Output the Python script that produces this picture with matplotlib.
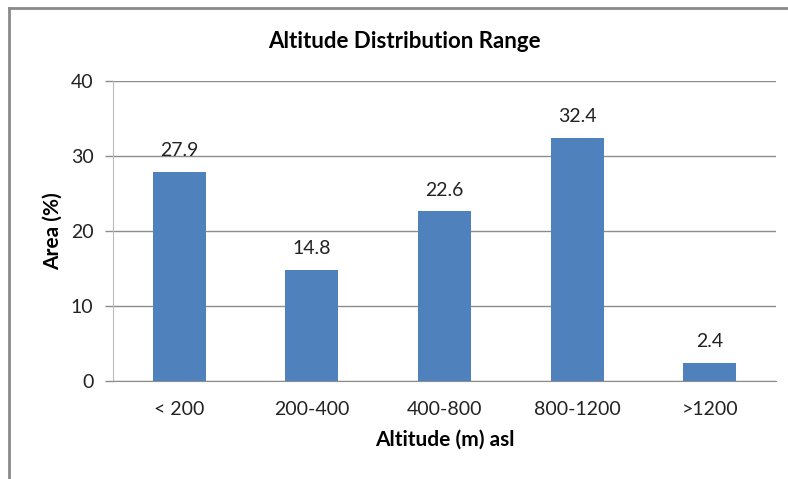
import matplotlib.pyplot as plt
from matplotlib.lines import Line2D

# altitude classes and share of total area
categories = ['< 200', '200-400', '400-800', '800-1200', '>1200']
area_pct = [27.9, 14.8, 22.6, 32.4, 2.4]
y_ticks = [0, 10, 20, 30, 40]

bar_color = '#4F81BD'
grid_color = '#8C8C8C'

plt.rcParams['font.family'] = ['Lato', 'DejaVu Sans']

fig = plt.figure(figsize=(7.88, 4.79), dpi=100)
ax = fig.add_axes([113 / 788, 1 - 380.5 / 479, 663 / 788, 299.5 / 479])

x = range(len(categories))
bars = ax.bar(x, area_pct, width=0.4, color=bar_color, zorder=3)

for rect, val in zip(bars, area_pct):
    ax.annotate(str(val), (rect.get_x() + rect.get_width() / 2, val),
                xytext=(0, 9), textcoords='offset points',
                ha='center', va='bottom', fontsize=14, color='#222222')

ax.set_xlim(-0.5, len(categories) - 0.5)
ax.set_ylim(0, 40)
ax.set_yticks(y_ticks)
ax.set_xticks(list(x))
ax.set_xticklabels(categories)
ax.tick_params(axis='x', length=0, pad=15, labelsize=14, colors='#222222')
ax.tick_params(axis='y', length=6, width=1, color=grid_color, pad=8,
               labelsize=14, labelcolor='#222222')
ax.grid(axis='y', color=grid_color, linewidth=1, zorder=0)

for side in ['top', 'right']:
    ax.spines[side].set_visible(False)
ax.spines['left'].set_color('#BBBBBB')
ax.spines['bottom'].set_color(grid_color)

ax.set_xlabel('Altitude (m) asl', fontsize=15, fontweight='bold', labelpad=8)
ax.set_ylabel('Area (%)', fontsize=15, fontweight='bold', labelpad=6)
fig.text(404 / 788, 1 - 42 / 479, 'Altitude Distribution Range',
         ha='center', va='center', fontsize=16, fontweight='bold')

# chart frame: top and left edges
fig.add_artist(Line2D([9 / 788, 1], [1 - 8 / 479, 1 - 8 / 479],
                      transform=fig.transFigure, color='#8A8A8A', linewidth=2))
fig.add_artist(Line2D([9 / 788, 9 / 788], [0, 1 - 8 / 479],
                      transform=fig.transFigure, color='#8A8A8A', linewidth=2))

fig.savefig('out.png', dpi=100)
